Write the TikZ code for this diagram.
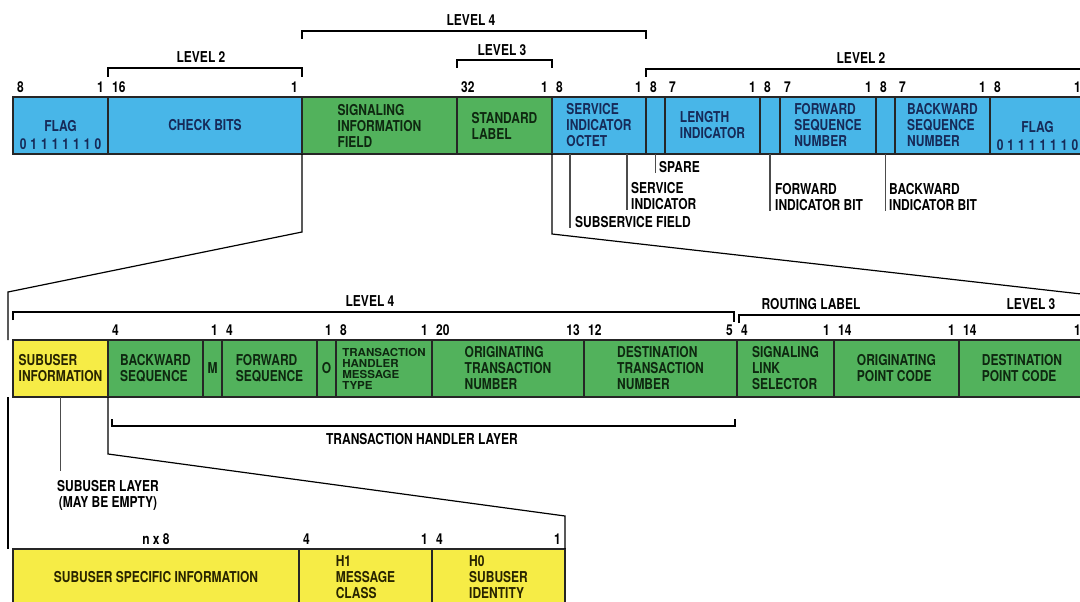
\documentclass[tikz,border=0pt]{standalone}
\usepackage{fontspec}
\newfontfamily\pktfont{TeX Gyre Heros}[FakeStretch=0.8]
\newfontfamily\tightfont{TeX Gyre Heros}[FakeStretch=1.05]
\usetikzlibrary{positioning, calc}

\definecolor{pktblue}{RGB}{72,182,232}
\definecolor{pktgreen}{RGB}{82,178,92}
\definecolor{pktyellow}{RGB}{246,236,70}
\definecolor{bluetxt}{RGB}{22,42,88}
\definecolor{greentxt}{RGB}{14,40,16}
\definecolor{yellowtxt}{RGB}{40,36,0}

\newcommand{\flagbits}{0\kern4pt1\kern4pt1\kern4pt1\kern4pt1\kern4pt1\kern4pt1\kern4pt0}
\AtBeginDocument{\lineskiplimit=-30pt\relax}

\tikzset{
  pkt/.style={font=\pktfont\bfseries\fontsize{15}{16}\selectfont},
  field/.style={pkt, draw=black!85, line width=1.6pt, anchor=north west,
    minimum height=57pt, inner sep=0pt, outer sep=0pt, align=left},
  bluefield/.style={field, fill=pktblue, text=bluetxt},
  greenfield/.style={field, fill=pktgreen, text=greentxt},
  yellowfield/.style={field, fill=pktyellow, text=yellowtxt},
  bitno/.style={pkt, inner sep=0pt},
  lbl/.style={pkt, inner sep=0pt, align=left},
  brack/.style={line width=1.3pt},
  lead/.style={line width=1.1pt, draw=black!70},
  expand/.style={line width=1.2pt},
}

\begin{document}
\begin{tikzpicture}[x=1pt, y=-1pt]
        \useasboundingbox (0,0) rectangle (1080,602);
        \clip (0,0) rectangle (1080,602);

        % Signal unit (top row)
        \node[bluefield, minimum width=95pt, align=center] (flagA) at (13,97) {\rule{0pt}{30pt}FLAG\\[2pt]\flagbits};
        \node[bluefield, minimum width=194pt] (chk) at (108,97) {CHECK BITS};
        \node[greenfield, minimum width=155pt] (sif) at (302,97) {SIGNALING\\INFORMATION\\FIELD};
        \node[greenfield, minimum width=95pt] (stl) at (457,97) {STANDARD\\LABEL};
        \node[bluefield, minimum width=94pt] (sio) at (552,97) {SERVICE\\INDICATOR\\OCTET};
        \node[bluefield, minimum width=19pt] (spare) at (646,97) {};
        \node[bluefield, minimum width=95pt] (li) at (665,97) {LENGTH\\INDICATOR};
        \node[bluefield, minimum width=20pt] (fib) at (760,97) {};
        \node[bluefield, minimum width=96pt] (fsn) at (780,97) {FORWARD\\SEQUENCE\\NUMBER};
        \node[bluefield, minimum width=19pt] (bib) at (876,97) {};
        \node[bluefield, minimum width=95pt] (bsn) at (895,97) {BACKWARD\\SEQUENCE\\NUMBER};
        \node[bluefield, minimum width=95pt, align=center] (flagB) at (990,97) {\rule{0pt}{32pt}FLAG\\[2pt]\flagbits};

        % Signal information field (middle row)
        \node[yellowfield, minimum width=95pt] (subinf) at (13,340) {SUBUSER\\INFORMATION};
        \node[greenfield, minimum width=95pt] (bseq) at (108,340) {BACKWARD\\SEQUENCE};
        \node[greenfield, minimum width=19pt] (msg) at (203,340) {M};
        \node[greenfield, minimum width=95pt] (fseq) at (222,340) {FORWARD\\SEQUENCE};
        \node[greenfield, minimum width=19pt] (ofld) at (317,340) {O};
        \node[greenfield, minimum width=96pt, font=\tightfont\bfseries\fontsize{11}{11}\selectfont] (thmt) at (336,340)
          {TRANSACTION\\HANDLER\\MESSAGE\\TYPE};
        \node[greenfield, minimum width=152pt] (otn) at (432,340) {ORIGINATING\\TRANSACTION\\NUMBER};
        \node[greenfield, minimum width=153pt] (dtn) at (584,340) {DESTINATION\\TRANSACTION\\NUMBER};
        \node[greenfield, minimum width=97pt] (sls) at (737,340) {SIGNALING\\LINK\\SELECTOR};
        \node[greenfield, minimum width=125pt] (opc) at (834,340) {ORIGINATING\\POINT CODE};
        \node[greenfield, minimum width=126pt] (dpc) at (959,340) {DESTINATION\\POINT CODE};

        % Subuser information (bottom row)
        \node[yellowfield, minimum width=286pt] (ssi) at (13,549) {SUBUSER SPECIFIC INFORMATION};
        \node[yellowfield, minimum width=133pt] (h1) at (299,549) {H1\\MESSAGE\\CLASS};
        \node[yellowfield, minimum width=133pt] (h0) at (432,549) {H0\\SUBUSER\\IDENTITY};

        % Bit numbers
        \foreach \f/\n in {flagA/8, chk/16, stl/32, sio/8, spare/8, li/7, fib/8, fsn/7, bib/8, bsn/7, flagB/8,
                           bseq/4, fseq/4, thmt/8, otn/20, dtn/12, sls/4, opc/14, dpc/14, h1/4, h0/4}
          \node[bitno, anchor=south west] at ([xshift=4pt,yshift=4pt]\f.north west) {\n};
        \foreach \f/\n in {flagA/1, chk/1, stl/1, sio/1, li/1, fsn/1, bsn/1, flagB/1,
                           msg/1, ofld/1, thmt/1, otn/13, dtn/5, sls/1, opc/1, dpc/1, h1/1, h0/1}
          \node[bitno, anchor=south east] at ([xshift=-4pt,yshift=4pt]\f.north east) {\n};
        \node[bitno, anchor=south] at ([yshift=4pt]ssi.north) {n x 8};

        % Levels
        \draw[brack] ([yshift=20pt]chk.north west) -- ++(0,-9) -| ([yshift=20pt]chk.north east);
        \draw[brack] ([yshift=58pt]sif.north west) -- ++(0,-8) -| ([yshift=58pt]sio.north east);
        \draw[brack] ([yshift=29pt]stl.north west) -- ++(0,-8) -| ([yshift=29pt]stl.north east);
        \draw[brack] ([yshift=20pt]spare.north west) -- ++(0,-8) -- ++(460,0);
        \node[lbl] (lvltwoA) at (201,57.5) {LEVEL 2};
        \node[lbl] (lvlfourA) at (471,20.5) {LEVEL 4};
        \node[lbl] (lvlthreeA) at (502,50) {LEVEL 3};
        \node[lbl] (lvltwoB) at (861,58.5) {LEVEL 2};

        \draw[brack] ([yshift=20pt]subinf.north west) -- ++(0,-8) -| ([xshift=-3pt,yshift=18pt]dtn.north east);
        \draw[brack] ([xshift=2pt,yshift=17pt]sls.north west) -- ++(0,-8) -- ++(360,0);
        \draw[brack] ([xshift=4pt,yshift=-22pt]bseq.south west) -- ++(0,7) -| ([xshift=-2pt,yshift=-22pt]dtn.south east);
        \node[lbl] (lvlfourB) at (370,301) {LEVEL 4};
        \node[lbl] (routing) at (811,304.5) {ROUTING LABEL};
        \node[lbl] (lvlthreeB) at (1031,304) {LEVEL 3};
        \node[lbl] (thlayer) at (422,439) {TRANSACTION HANDLER LAYER};

        % Sub-field labels
        \node[lbl, anchor=west] (sparel) at (659,167) {SPARE};
        \node[lbl, anchor=west] (svcind) at (631,196) {SERVICE\\INDICATOR};
        \node[lbl, anchor=west] (subsvc) at (575,222) {SUBSERVICE FIELD};
        \node[lbl, anchor=west] (fibl) at (775,197.5) {FORWARD\\INDICATOR BIT};
        \node[lbl, anchor=west] (bibl) at (889,197.5) {BACKWARD\\INDICATOR BIT};
        \node[lbl, align=center, inner ysep=9pt] (sublyr) at (108,495) {SUBUSER LAYER\\(MAY BE EMPTY)};

        \coordinate (svctop) at ([xshift=75pt]sio.south west);
        \coordinate (subtop) at ([xshift=18pt]sio.south west);
        \draw[lead] (spare.south) -- (spare.south |- sparel.south);
        \draw[lead] (svctop) -- (svctop |- svcind.south);
        \draw[lead] (subtop) -- (subtop |- subsvc.south);
        \draw[lead] (fib.south) -- (fib.south |- fibl.south);
        \draw[lead] (bib.south) -- (bib.south |- bibl.south);
        \draw[lead] (subinf.south) -- (subinf.south |- sublyr.north);

        % Expansion lines
        \draw[expand] (sif.south west) -- ++(0,78) -- ([xshift=-5pt,yshift=48pt]subinf.north west)
          -- ([xshift=-5pt]subinf.north west);
        \draw[expand] (sio.south west) -- ++(0,80) -- ([xshift=5pt,yshift=45pt]dpc.north east)
          -- ([xshift=5pt]dpc.north east);
        \draw[expand] ([xshift=-5pt]subinf.south west) -- ([xshift=-5pt]ssi.north west);
        \draw[expand] (bseq.south west) -- ++(0,57) -- ([yshift=33pt]h0.north east) -- (h0.north east);

      \end{tikzpicture}
\end{document}
